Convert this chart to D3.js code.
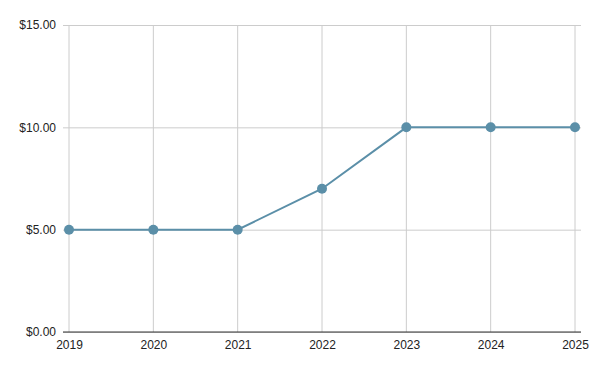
<!DOCTYPE html>
<html>
<head>
<meta charset="utf-8">
<script src="https://cdn.jsdelivr.net/npm/d3@7"></script>
<style>
  html, body { margin: 0; padding: 0; background: #fff; }
  svg text { font-family: "Liberation Sans", Arial, sans-serif; font-size: 12px; fill: #222; }
</style>
</head>
<body>
<svg id="chart" width="600" height="371"></svg>
<script>
// Price per year.
const years = ['2019', '2020', '2021', '2022', '2023', '2024', '2025'];
const prices = [5, 5, 5, 7, 10, 10, 10];
const yTicks = [0, 5, 10, 15];

const W = 600, H = 371;
const margin = { top: 25, right: 25, bottom: 39, left: 69 };

const svg = d3.select('#chart');

const x = d3.scalePoint()
  .domain(years)
  .range([margin.left, W - margin.right]);

const y = d3.scaleLinear()
  .domain([0, 15])
  .range([H - margin.bottom, margin.top]);

const fmt = v => '$' + v.toFixed(2);
const lineColor = '#5b8fa8';

// Horizontal grid + y labels
const yAxis = svg.append('g')
  .attr('transform', `translate(${margin.left},0)`)
  .call(d3.axisLeft(y).tickValues(yTicks).tickFormat(fmt)
    .tickSize(-(W - margin.right - margin.left + 6)).tickPadding(13));
yAxis.select('.domain').remove();
yAxis.selectAll('.tick line').attr('stroke', '#cccccc').attr('x1', -6);

// Vertical grid
svg.append('g')
  .selectAll('line')
  .data(years)
  .join('line')
  .attr('x1', d => x(d)).attr('x2', d => x(d))
  .attr('y1', y(15)).attr('y2', y(0))
  .attr('stroke', '#cccccc');

// X axis
const xAxis = svg.append('g')
  .attr('transform', `translate(0,${y(0)})`)
  .call(d3.axisBottom(x).tickSize(0).tickPadding(8));
xAxis.select('.domain').remove();
svg.append('line')
  .attr('x1', margin.left - 6).attr('x2', W - margin.right + 6)
  .attr('y1', y(0)).attr('y2', y(0))
  .attr('stroke', '#333');

// Line
const data = years.map((yr, i) => ({ yr, v: prices[i] }));
svg.append('path')
  .datum(data)
  .attr('fill', 'none')
  .attr('stroke', lineColor)
  .attr('stroke-width', 2)
  .attr('d', d3.line().x(d => x(d.yr)).y(d => y(d.v)));

svg.append('g')
  .selectAll('circle')
  .data(data)
  .join('circle')
  .attr('cx', d => x(d.yr))
  .attr('cy', d => y(d.v))
  .attr('r', 5)
  .attr('fill', lineColor);
</script>
</body>
</html>
